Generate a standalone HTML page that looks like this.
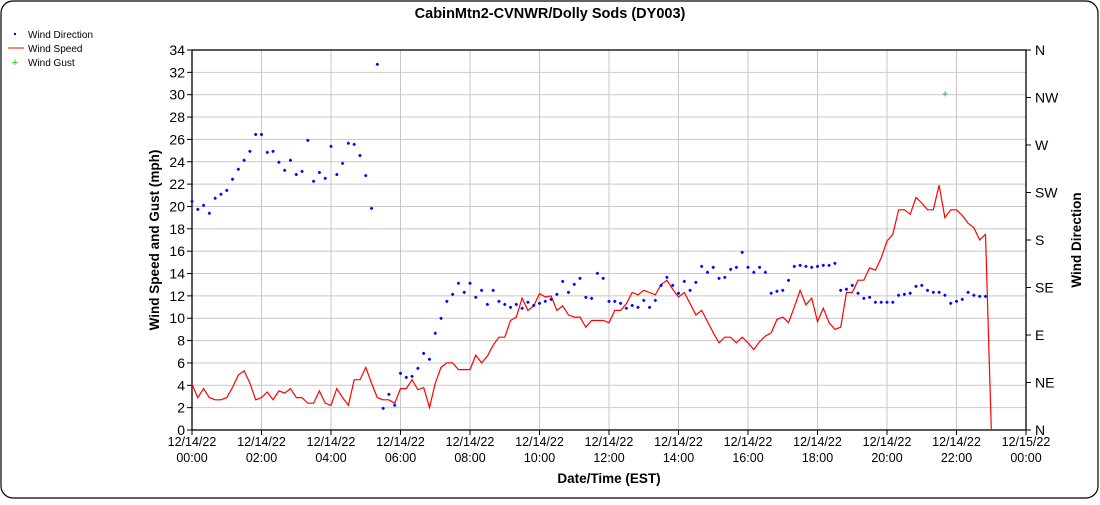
<!DOCTYPE html>
<html><head><meta charset="utf-8"><style>
body{margin:0;background:#fff;font-family:"Liberation Sans",Arial,sans-serif}
svg text{font-family:"Liberation Sans",Arial,sans-serif}
</style></head><body>
<svg id="c" width="1100" height="500">
<rect x="1" y="1" width="1097" height="497" rx="12" fill="#fff" stroke="#000" stroke-width="1.2"/>
<text x="550" y="18" text-anchor="middle" font-size="14.5" font-weight="bold">CabinMtn2-CVNWR/Dolly Sods (DY003)</text>
<g>
<g><rect x="14" y="33" width="2" height="2" fill="#00f"/><text x="28" y="38" font-size="10">Wind Direction</text></g>
<g><line x1="8" y1="48" x2="24" y2="48" stroke="#f00"/><text x="28" y="52" font-size="10">Wind Speed</text></g>
<g><text x="15" y="66" font-size="11" fill="#0c0" text-anchor="middle">+</text><text x="28" y="66" font-size="10">Wind Gust</text></g>
</g>
<g id="grid"></g><g id="axes"></g><g id="marks"></g>
<text transform="translate(159,240) rotate(-90)" text-anchor="middle" font-size="13.5" font-weight="bold">Wind Speed and Gust (mph)</text>
<text transform="translate(1081,240) rotate(-90)" text-anchor="middle" font-size="13.5" font-weight="bold">Wind Direction</text>
<text x="609" y="483" text-anchor="middle" font-size="13.5" font-weight="bold">Date/Time (EST)</text>
</svg>
<script>
const speed=[4.1,2.9,3.7,2.9,2.7,2.7,2.9,3.8,4.9,5.3,4.2,2.7,2.9,3.4,2.7,3.5,3.3,3.7,2.9,2.9,2.4,2.4,3.5,2.4,2.2,3.7,2.9,2.2,4.5,4.5,5.6,4.2,2.9,2.7,2.7,2.4,3.7,3.7,4.5,3.6,3.8,2.0,4.2,5.6,6.0,6.0,5.4,5.4,5.4,6.7,6.0,6.6,7.6,8.3,8.3,9.8,10.1,11.8,10.7,11.1,12.2,11.9,12.0,10.7,11.1,10.3,10.1,10.1,9.2,9.8,9.8,9.8,9.6,
10.7,10.7,11.3,12.3,12.1,12.5,12.3,12.1,13.0,13.4,12.6,11.9,12.3,11.3,10.3,10.7,9.7,8.7,7.8,8.3,8.3,7.8,8.3,7.8,7.2,7.9,8.4,8.7,9.9,10.1,9.6,11.0,12.5,11.2,11.8,9.7,10.9,9.6,9.0,9.2,12.3,12.3,13.4,13.4,14.5,14.3,15.4,16.9,17.5,19.7,19.7,19.3,20.8,20.3,19.7,19.7,21.9,19.0,19.7,19.7,19.2,18.5,18.1,17.0,17.5,0];
const direction=[216.6,209,212.8,205.3,219.5,223.3,227,237.5,247,255.5,264,280,280,263,264,253.6,246,255.5,242,245,274.4,235.6,244,238.4,268.7,242,252.6,271.6,270.6,260,241,210,346.4,20.5,33.8,23.4,53.7,49.9,50.8,58.4,72.6,67,91.6,105.8,121.9,128.5,139,130.4,139,125.7,132.3,119,132.3,121.9,119,116.2,119,115.3,121,118,120,121.9,123.8,128.5,140.8,130.4,138,143.7,125.7,124.7,148.4,143.7,121.9,
121.9,120,115.3,118,116.2,122.8,116.2,122.8,137,144.6,137,129.5,140.8,132.3,139.9,155,149.4,154.1,143.7,144.6,152.2,154.1,168.3,154.1,149.4,154.1,149.4,129.5,131.4,132.3,141.8,155,156,155,154.1,155,156,156,157.9,132.3,133.3,137,129.5,124.7,125.7,121,121,121,121,127.6,128.5,129.5,136.1,137,132.3,130.4,130.4,127.6,120,121.9,123.8,130.4,127.6,126.6,126.6];
const gustTimes=[21.67];
const gustValues=[30.1];
const speedTicks=[0,2,4,6,8,10,12,14,16,18,20,22,24,26,28,30,32,34];
const dirTicks=["N","NE","E","SE","S","SW","W","NW","N"];
const xTickHours=[0,2,4,6,8,10,12,14,16,18,20,22,24];
const xTickLabels=["12/14/22|00:00","12/14/22|02:00","12/14/22|04:00","12/14/22|06:00","12/14/22|08:00","12/14/22|10:00","12/14/22|12:00","12/14/22|14:00","12/14/22|16:00","12/14/22|18:00","12/14/22|20:00","12/14/22|22:00","12/15/22|00:00"];

const L=192,R=1026,T=50,B=430,NS='http://www.w3.org/2000/svg';
const xs=h=>L+(R-L)*h/24, ys=v=>B-(B-T)*v/34, yd=d=>B-(B-T)*d/360;
function mk(tag,attrs,parent){const e=document.createElementNS(NS,tag);for(const k in attrs)e.setAttribute(k,attrs[k]);document.getElementById(parent).appendChild(e);return e;}
speedTicks.forEach(v=>{
  const g=mk('line',{x1:L,x2:R,y1:ys(v),y2:ys(v),stroke:'#c8c8c8'},'grid');
  
  
  mk('line',{x1:L-5,x2:L,y1:ys(v),y2:ys(v),stroke:'#000'},'axes');
  const t=mk('text',{x:L-7,y:ys(v)+5,'text-anchor':'end','font-size':14},'axes');t.textContent=v;
  
  
});
xTickHours.forEach((h,i)=>{
  const g=mk('line',{x1:xs(h),x2:xs(h),y1:T,y2:B,stroke:'#c8c8c8'},'grid');
  
  
  mk('line',{x1:xs(h),x2:xs(h),y1:B,y2:B+5,stroke:'#000'},'axes');
  const p=xTickLabels[i].split('|');
  const t=mk('text',{x:xs(h),y:B+16,'text-anchor':'middle','font-size':12.5},'axes');t.textContent=p[0];
  
  
  const t2=mk('text',{x:xs(h),y:B+32,'text-anchor':'middle','font-size':12.5},'axes');t2.textContent=p[1];
  
  
});
dirTicks.forEach((d,i)=>{
  const y=yd(i*45);
  mk('line',{x1:R,x2:R+5,y1:y,y2:y,stroke:'#000'},'axes');
  const t=mk('text',{x:R+9,y:y+5,'font-size':14},'axes');t.textContent=d;
  
  
});
const fr=mk('rect',{x:L,y:T,width:R-L,height:B-T,fill:'none',stroke:'#000','stroke-width':1.3},'axes');


const pts=speed.map((v,i)=>xs(i/6).toFixed(1)+','+ys(v).toFixed(1)).join(' ');
const ln=mk('polyline',{points:pts,fill:'none',stroke:'#f00','stroke-width':1.2},'marks');


direction.forEach((d,i)=>{
  const cx=xs(i/6),cy=yd(d);
  const r=mk('path',{d:`M${cx-1.5},${cy-0.8}h3v1.6h-3z M${cx-0.8},${cy-1.5}h1.6v3h-1.6z`,fill:'#00f'},'marks');
  
  
});
gustTimes.forEach((h,i)=>{
  const t=mk('text',{x:xs(h),y:ys(gustValues[i])+4,'text-anchor':'middle','font-size':11,fill:'#0c0'},'marks');t.textContent='+';
  
  
});
</script>
</body></html>
